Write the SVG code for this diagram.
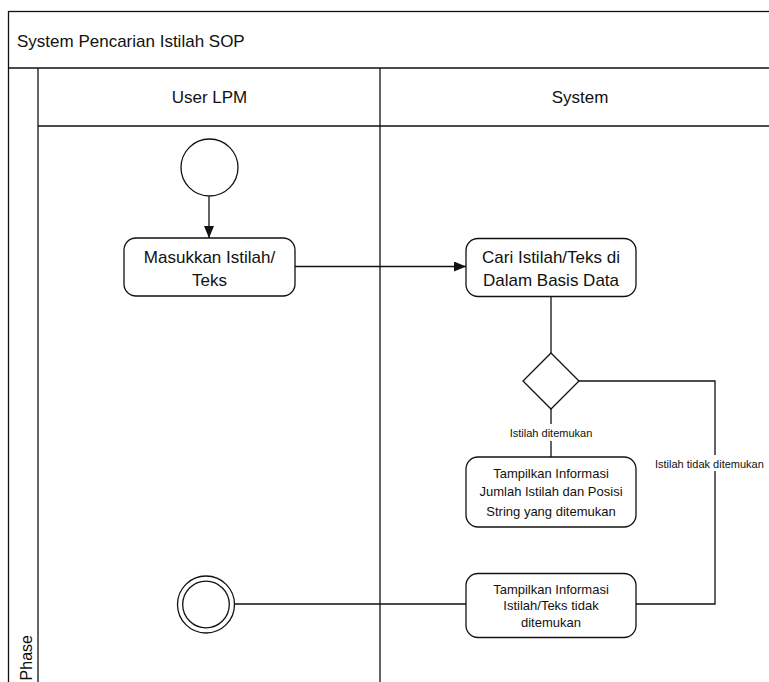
<svg xmlns="http://www.w3.org/2000/svg" width="769" height="682" viewBox="0 0 769 682">
<style>
text{font-family:"Liberation Sans",Arial,sans-serif;fill:#111}
.lane{fill:none;stroke:#111;stroke-width:1.3}
.node{fill:#fff;stroke:#111;stroke-width:1.3}
.big{font-size:17px}
.mid{font-size:13px}
.sm{font-size:11px}
.c{text-anchor:middle}
.edge{fill:none;stroke:#111;stroke-width:1.3}
</style>
<defs>
<marker id="arr" viewBox="0 0 12 10" refX="12" refY="5" markerWidth="12" markerHeight="10" markerUnits="userSpaceOnUse" orient="auto">
<path d="M0,0 L12,5 L0,10 Z" fill="#111"/>
</marker>
</defs>
<rect width="769" height="682" fill="#fff"/>
<g id="pool">
<rect class="lane" x="8.5" y="11.5" width="800" height="700"/>
<line class="lane" x1="8" y1="68" x2="769" y2="68"/>
<line class="lane" x1="38" y1="68" x2="38" y2="682"/>
<line class="lane" x1="38" y1="126" x2="769" y2="126"/>
<line class="lane" x1="380" y1="68" x2="380" y2="682"/>
<text class="big" x="17" y="46.5">System Pencarian Istilah SOP</text>
<text class="big c" x="209.5" y="103">User LPM</text>
<text class="big c" x="580" y="103">System</text>
<text transform="translate(32,635) rotate(-90)" text-anchor="end" style="font-size:16px">Phase</text>
</g>
<g id="connectors">
<line class="edge" x1="209" y1="196.5" x2="209" y2="238" marker-end="url(#arr)"/>
<line class="edge" x1="295" y1="266.5" x2="466" y2="266.5" marker-end="url(#arr)"/>
<line class="edge" x1="551" y1="297" x2="551" y2="353"/>
<line class="edge" x1="551" y1="409" x2="551" y2="457"/>
<polyline class="edge" points="579,381 715,381 715,604 636,604"/>
<line class="edge" x1="466" y1="604" x2="234.5" y2="604"/>
<g id="label-found">
<rect x="500" y="424" width="102" height="17" fill="#fff"/>
<text class="sm c" x="551" y="437">Istilah ditemukan</text>
</g>
<g id="label-notfound">
<rect x="652" y="455" width="117" height="16" fill="#fff"/>
<text class="sm" x="655" y="467.5">Istilah tidak ditemukan</text>
</g>
</g>
<g id="start">
<circle class="node" cx="209.5" cy="167.5" r="28.5"/>
</g>
<g id="masukkan">
<rect class="node" x="124" y="238" width="171" height="58" rx="12"/>
<text class="big c" x="209.5" y="263">Masukkan Istilah/</text>
<text class="big c" x="209.5" y="286">Teks</text>
</g>
<g id="cari">
<rect class="node" x="466" y="238.5" width="170" height="58" rx="12"/>
<text class="big c" x="551" y="262.5">Cari Istilah/Teks di</text>
<text class="big c" x="551" y="286">Dalam Basis Data</text>
</g>
<g id="decision">
<polygon class="node" points="551,353 579,381 551,409 523,381"/>
</g>
<g id="tampil-ditemukan">
<rect class="node" x="466" y="457" width="170" height="70" rx="12"/>
<text class="mid c" x="551" y="477.5">Tampilkan Informasi</text>
<text class="mid c" x="551" y="495.5">Jumlah Istilah dan Posisi</text>
<text class="mid c" x="551" y="515.5">String yang ditemukan</text>
</g>
<g id="tampil-tidak">
<rect class="node" x="466" y="573.5" width="170" height="64" rx="12"/>
<text class="mid c" x="551" y="593.5">Tampilkan Informasi</text>
<text class="mid c" x="551" y="610">Istilah/Teks tidak</text>
<text class="mid c" x="551" y="627">ditemukan</text>
</g>
<g id="end">
<circle class="node" cx="206" cy="604.5" r="28.5"/>
<circle class="node" cx="206" cy="604.5" r="23.3"/>
</g>
</svg>
